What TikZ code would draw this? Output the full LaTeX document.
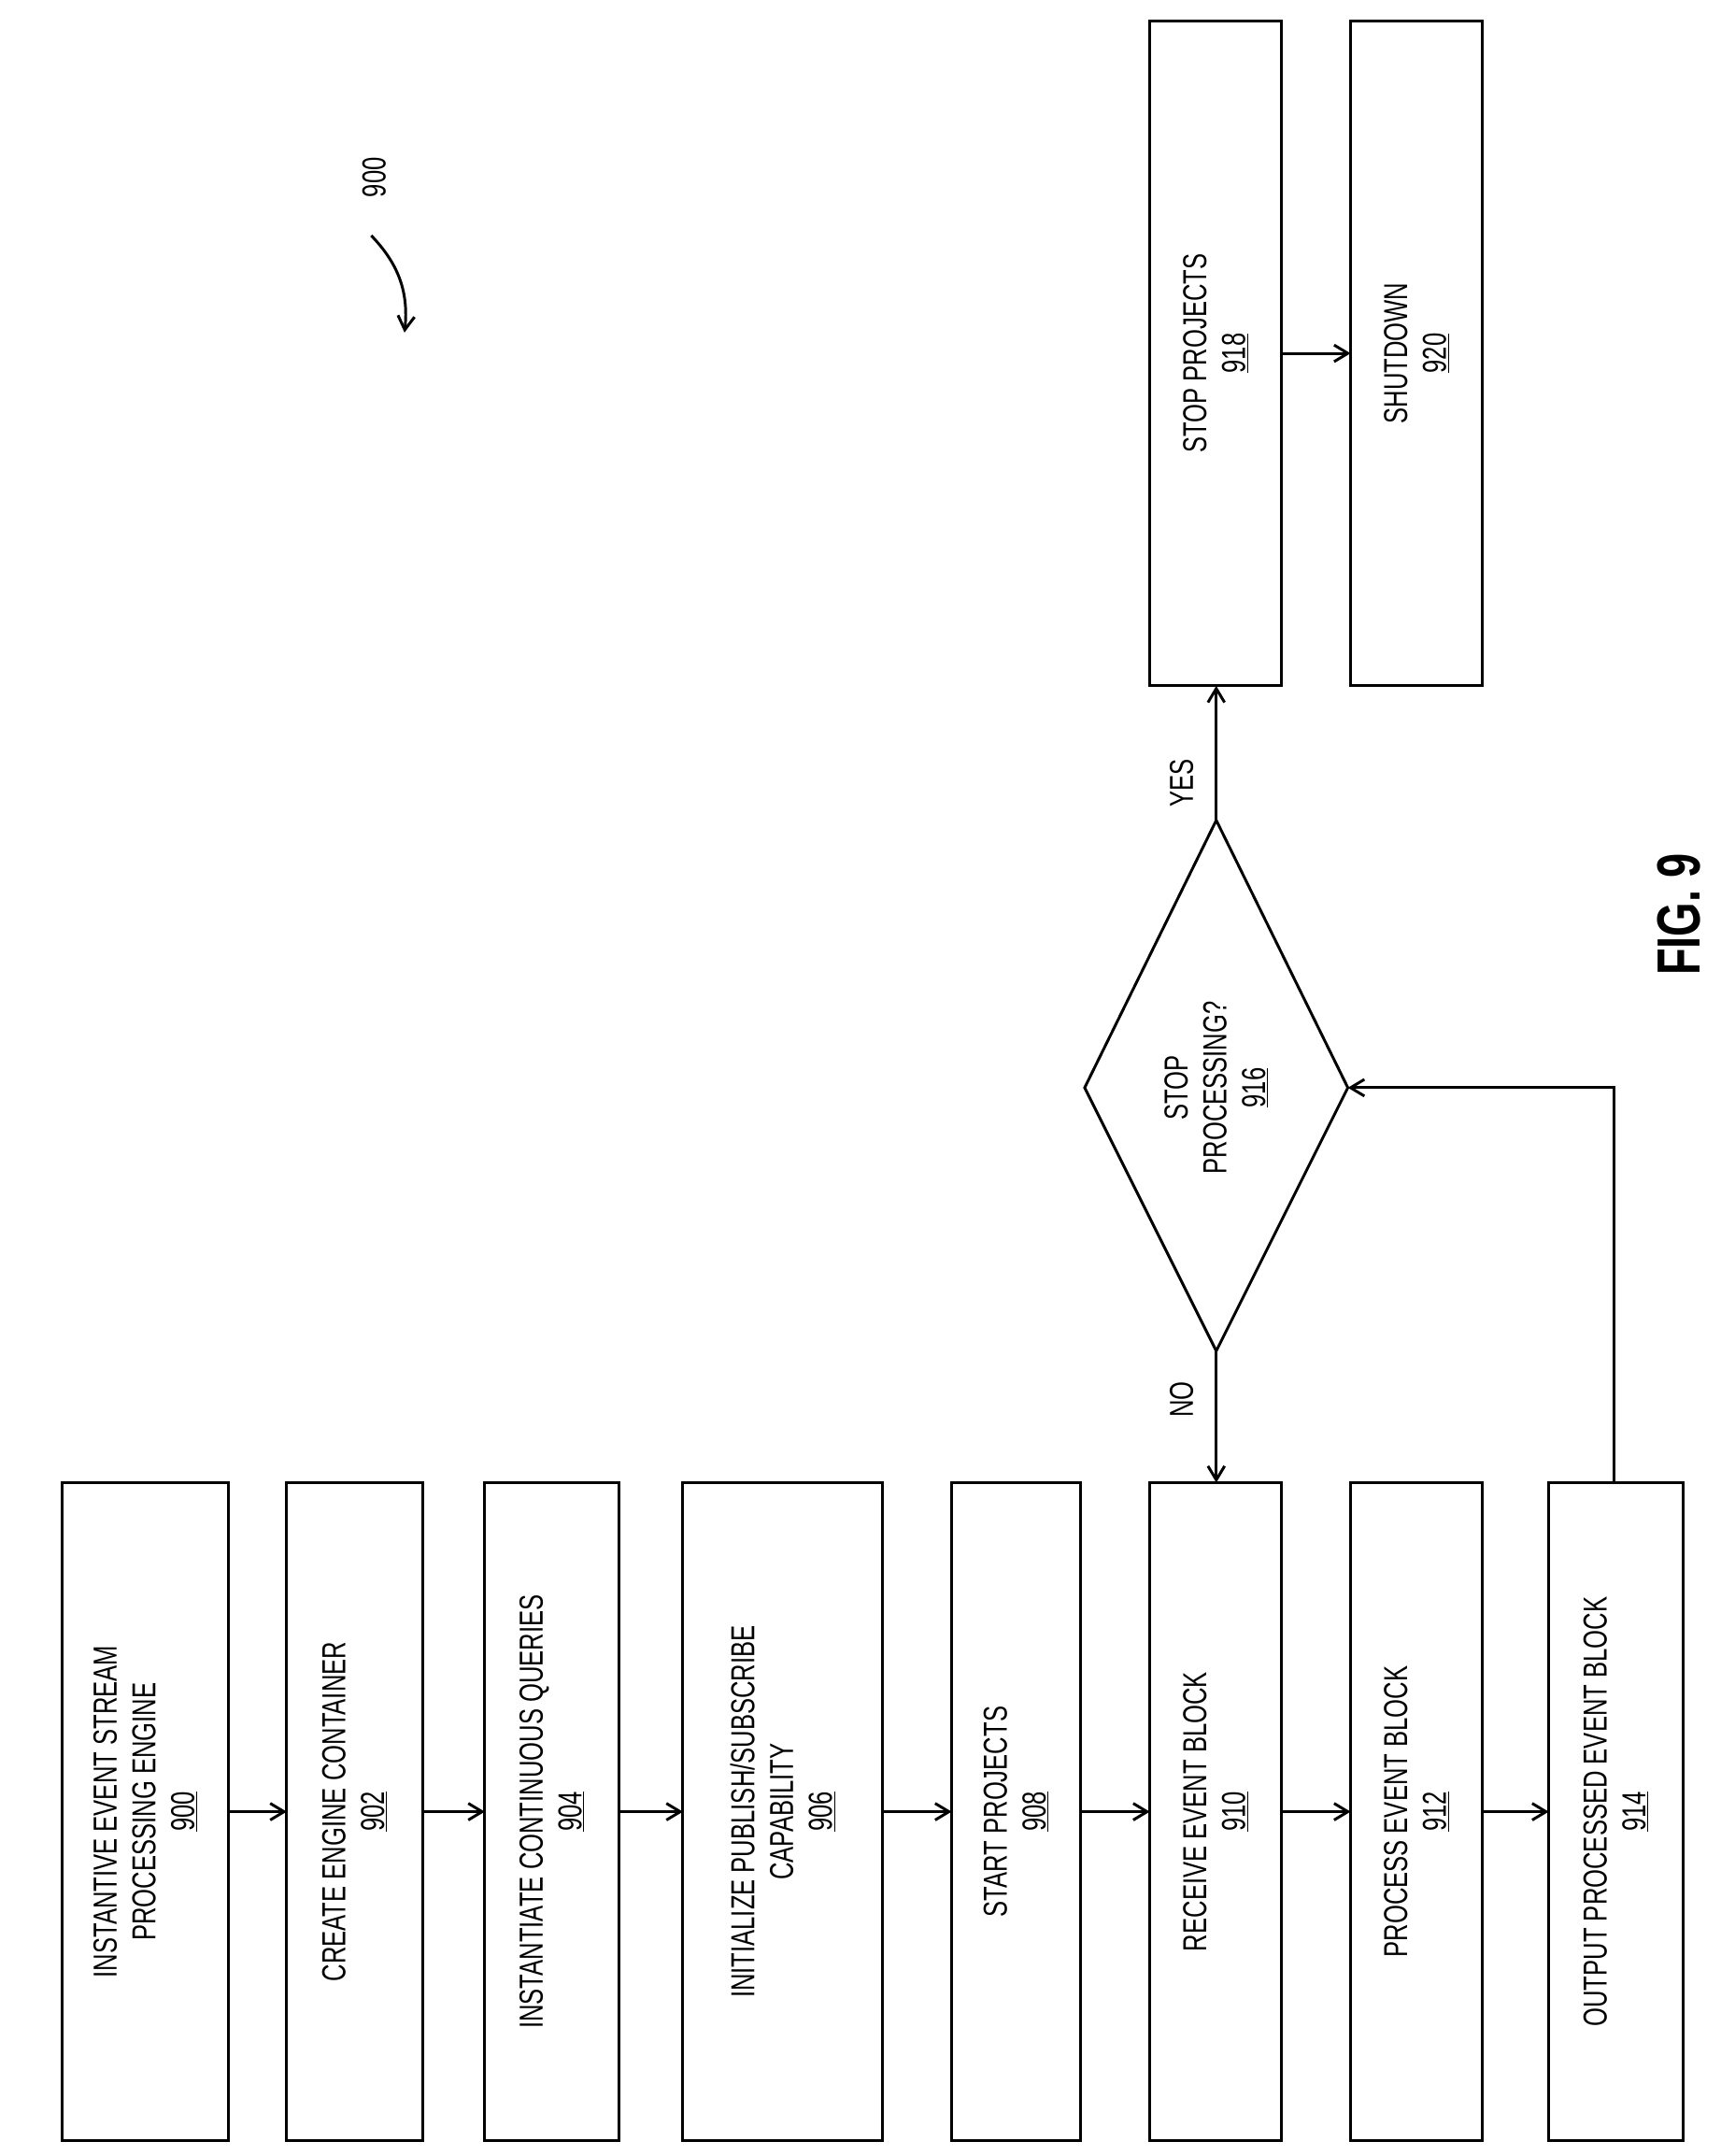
\documentclass[tikz,border=0pt]{standalone}
\usepackage{fontspec}
\setmainfont[FakeStretch=0.72]{Liberation Sans}
\usetikzlibrary{arrows.meta,shapes.geometric}
\begin{document}
\begin{tikzpicture}[x=1pt,y=-1pt,line width=2pt,
 box/.style={draw,rectangle,inner sep=0pt},
 t/.style={rotate=90,align=center,font=\fontsize{24}{28}\selectfont},
 arr/.style={-{Straight Barb[length=10pt,width=12pt]}}]
\useasboundingbox (0,0) rectangle (1242,1556);
\newcommand\rbox[6]{\draw (#2,#4) rectangle (#3,#5); \node[t] (#1) at ({(#2+#3)/2},{(#4+#5)/2}) {#6};
 \coordinate (#1L) at (#2,{(#4+#5)/2}); \coordinate (#1R) at (#3,{(#4+#5)/2});}
\rbox{a}{45}{165}{1070}{1545}{INSTANTIVE EVENT STREAM\\PROCESSING ENGINE\\\underline{900}}
\rbox{b}{207}{305}{1070}{1545}{CREATE ENGINE CONTAINER\\\underline{902}}
\rbox{c}{350}{447}{1070}{1545}{INSTANTIATE CONTINUOUS QUERIES\\\underline{904}}
\rbox{d}{493}{637}{1070}{1545}{INITIALIZE PUBLISH/SUBSCRIBE\\CAPABILITY\\\underline{906}}
\rbox{e}{687}{780}{1070}{1545}{START PROJECTS\\\underline{908}}
\rbox{f}{830}{925}{1070}{1545}{RECEIVE EVENT BLOCK\\\underline{910}}
\rbox{g}{975}{1070}{1070}{1545}{PROCESS EVENT BLOCK\\\underline{912}}
\rbox{h}{1118}{1215}{1070}{1545}{OUTPUT PROCESSED EVENT BLOCK\\\underline{914}}
\rbox{k}{830}{925}{15}{495}{STOP PROJECTS\\\underline{918}}
\rbox{m}{975}{1070}{15}{495}{SHUTDOWN\\\underline{920}}
\coordinate (dl) at (783,785); \coordinate (dt) at (878,592);
\coordinate (dr) at (973,785); \coordinate (db) at (878,975);
\draw (dl)--(dt)--(dr)--(db)--cycle;
\node[t] (dq) at (878,785) {STOP\\PROCESSING?\\\underline{916}};
\draw[arr] (aR)--(bL); \draw[arr] (bR)--(cL); \draw[arr] (cR)--(dL);
\draw[arr] (dR)--(eL); \draw[arr] (eR)--(fL); \draw[arr] (fR)--(gL);
\draw[arr] (gR)--(hL); \draw[arr] (kR)--(mL);
\coordinate (ft) at (878,1070); \coordinate (kb) at (878,495);
\coordinate (ht) at (1165,1070);
\draw[arr] (db)--(ft); \draw[arr] (dt)--(kb);
\draw[arr] (ht)--(1165,785)--(dr);
\node[t] (no) at (853,1010) {NO};
\node[t] (yes) at (853,565) {YES};
\node[t] (n900) at (270,128) {900};
\draw[arr] (268,170) to[bend left=25] (292,240);
\node[rotate=90,font=\fontsize{44}{50}\selectfont\bfseries] (fig) at (1212,660) {FIG. 9};
\end{tikzpicture}
\end{document}
